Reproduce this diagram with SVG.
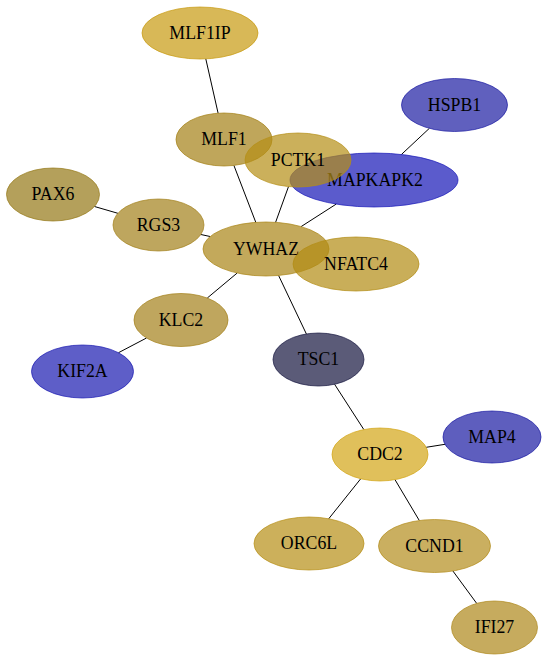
<svg xmlns="http://www.w3.org/2000/svg" width="548" height="661" viewBox="0 0 548 661">
<style>
.bg{fill:#ffffff}
.e{stroke:#000000;stroke-width:1;fill:none}
ellipse{fill-opacity:0.7;stroke-opacity:0.7;stroke-width:1}
text{font-family:"Liberation Serif","Times New Roman",serif;font-size:17.8px;text-anchor:middle;fill:#000000}
</style>
<rect class="bg" x="0" y="0" width="548" height="661"/>
<g id="edges">
<line class="e" x1="205.8" y1="58.9" x2="218.1" y2="113.2"/>
<line class="e" x1="233.9" y1="165.4" x2="255.8" y2="222.4"/>
<line class="e" x1="288.5" y1="186.6" x2="275.6" y2="222.3"/>
<line class="e" x1="336.2" y1="204.1" x2="301.1" y2="226.6"/>
<line class="e" x1="429.4" y1="128.3" x2="401.4" y2="154.5"/>
<line class="e" x1="94.5" y1="206.5" x2="117.9" y2="213.3"/>
<line class="e" x1="200.9" y1="234.5" x2="210.1" y2="236.5"/>
<line class="e" x1="237.2" y1="273" x2="207.3" y2="298"/>
<line class="e" x1="146.5" y1="338" x2="118.5" y2="352.7"/>
<line class="e" x1="278.6" y1="275.5" x2="306.4" y2="334"/>
<line class="e" x1="334.6" y1="384.3" x2="363.8" y2="429.5"/>
<line class="e" x1="426.2" y1="447.3" x2="445" y2="444.3"/>
<line class="e" x1="360.7" y1="478.8" x2="328.7" y2="518.8"/>
<line class="e" x1="395" y1="479.7" x2="419.3" y2="520.5"/>
<line class="e" x1="452.9" y1="571" x2="476.7" y2="603.4"/>
</g>
<g id="MLF1IP"><ellipse cx="200" cy="33" rx="58" ry="26" fill="#c79a10" stroke="#c79a10"/><text x="200" y="38.5">MLF1IP</text></g>
<g id="MLF1"><ellipse cx="224" cy="139.5" rx="48" ry="26.5" fill="#a48016" stroke="#a48016"/><text x="224" y="145">MLF1</text></g>
<g id="PAX6"><ellipse cx="53" cy="194.5" rx="46.5" ry="26.5" fill="#947716" stroke="#947716"/><text x="53" y="200">PAX6</text></g>
<g id="RGS3"><ellipse cx="158.5" cy="225" rx="45.5" ry="26" fill="#a2801a" stroke="#a2801a"/><text x="158.5" y="230.5">RGS3</text></g>
<g id="HSPB1"><ellipse cx="454.5" cy="105" rx="53" ry="26.5" fill="#1c1ca2" stroke="#1c1ca2"/><text x="454.5" y="110.5">HSPB1</text></g>
<g id="MAPKAPK2"><ellipse cx="374" cy="180" rx="84" ry="27" fill="#1616b6" stroke="#1616b6"/><text x="375" y="185.5">MAPKAPK2</text></g>
<g id="PCTK1"><ellipse cx="298" cy="160" rx="53" ry="27" fill="#b58e16" stroke="#b58e16"/><text x="298" y="165.5">PCTK1</text></g>
<g id="YWHAZ"><ellipse cx="266" cy="249" rx="63" ry="27" fill="#a98416" stroke="#a98416"/><text x="266" y="254.5">YWHAZ</text></g>
<g id="NFATC4"><ellipse cx="356" cy="264" rx="63" ry="27" fill="#b28b13" stroke="#b28b13"/><text x="356" y="269.5">NFATC4</text></g>
<g id="KLC2"><ellipse cx="181" cy="320" rx="47" ry="26.5" fill="#a4801a" stroke="#a4801a"/><text x="181" y="325.5">KLC2</text></g>
<g id="KIF2A"><ellipse cx="82.5" cy="371.5" rx="51" ry="26.5" fill="#1919b0" stroke="#1919b0"/><text x="82.5" y="377">KIF2A</text></g>
<g id="TSC1"><ellipse cx="318.5" cy="359.5" rx="45.5" ry="26.5" fill="#16163e" stroke="#16163e"/><text x="318.5" y="365">TSC1</text></g>
<g id="CDC2"><ellipse cx="380" cy="454.5" rx="48" ry="26.5" fill="#d3a516" stroke="#d3a516"/><text x="380" y="460">CDC2</text></g>
<g id="MAP4"><ellipse cx="492" cy="437" rx="49" ry="26" fill="#1919a2" stroke="#1919a2"/><text x="492" y="442.5">MAP4</text></g>
<g id="ORC6L"><ellipse cx="309" cy="543.5" rx="55" ry="26.5" fill="#b68e16" stroke="#b68e16"/><text x="309" y="549">ORC6L</text></g>
<g id="CCND1"><ellipse cx="434.5" cy="546" rx="56" ry="26.5" fill="#b38d1c" stroke="#b38d1c"/><text x="434.5" y="551.5">CCND1</text></g>
<g id="IFI27"><ellipse cx="494.5" cy="627.5" rx="43" ry="26.5" fill="#ae8819" stroke="#ae8819"/><text x="494.5" y="633">IFI27</text></g>
</svg>
